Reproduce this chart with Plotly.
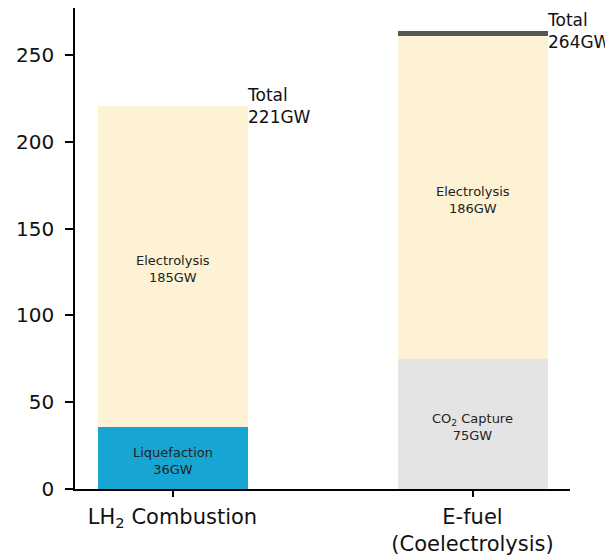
import plotly.graph_objects as go

categories = ["LH<sub>2</sub> Combustion", "E-fuel<br>(Coelectrolysis)"]
liquefaction = [36, 0]
co2_capture = [0, 75]
electrolysis = [185, 186]
other = [0, 3]
totals = [221, 264]

x = [0, 1]
W = 0.5
fig = go.Figure()
series = [
    ("Liquefaction", liquefaction, "#17a6d4"),
    ("CO<sub>2</sub> Capture", co2_capture, "#e4e4e4"),
    ("Electrolysis", electrolysis, "#fdf2d4"),
    ("Other", other, "#555555"),
]
for name, vals, col in series:
    fig.add_trace(go.Bar(x=x, y=vals, width=W, marker=dict(color=col, line=dict(width=0)),
                         name=name, showlegend=False, hoverinfo="skip"))

annotations = []
base = [0, 0]
for name, vals, col in series:
    for i in range(2):
        v = vals[i]
        if v >= 20:
            annotations.append(dict(x=x[i], y=base[i] + v / 2, xref="x", yref="y",
                                    text=f"{name}<br>{v}GW", showarrow=False, yshift=-3,
                                    font=dict(size=13, color="#222222", family="DejaVu Sans"),
                                    align="center"))
        base[i] += v
for i in range(2):
    annotations.append(dict(x=x[i] + W / 2, y=totals[i], xref="x", yref="y",
                            text=f"Total<br>{totals[i]}GW", showarrow=False,
                            xanchor="left", yanchor="middle", align="left", xshift=-3,
                            font=dict(size=17, color="#111111", family="DejaVu Sans")))

fig.update_layout(
    barmode="stack",
    width=605, height=549,
    margin=dict(l=67, r=43, t=0, b=68, autoexpand=False),
    plot_bgcolor="white", paper_bgcolor="white",
    bargap=0,
    annotations=annotations,
    font=dict(family="DejaVu Sans", color="#111111"),
)
fig.update_xaxes(range=[-0.325, 1.325], tickvals=x, ticktext=categories,
                 showline=True, linecolor="black", linewidth=1.5,
                 ticks="outside", ticklen=6, tickwidth=1.5, tickcolor="black",
                 showgrid=False, zeroline=False, automargin=False, ticklabelstandoff=2,
                 tickfont=dict(size=21, color="#111111"))
fig.update_yaxes(range=[0, 277.2], tickvals=[0, 50, 100, 150, 200, 250],
                 showline=True, linecolor="black", linewidth=1.5,
                 ticks="outside", ticklen=8, tickwidth=1.5, tickcolor="black",
                 showgrid=False, zeroline=False, automargin=False, ticklabelstandoff=7,
                 tickfont=dict(size=20, color="#111111"))

fig.write_html("out.html")
